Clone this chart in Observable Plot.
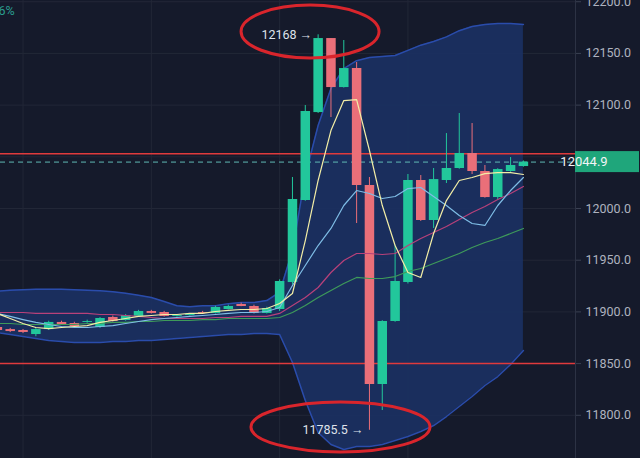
<!DOCTYPE html>
<html><head><meta charset="utf-8">
<script src="https://cdn.jsdelivr.net/npm/d3@7"></script>
<script src="https://cdn.jsdelivr.net/npm/@observablehq/plot@0.6"></script>
<style>
html,body{margin:0;padding:0;background:#151a2b;overflow:hidden}
#chart{position:relative;width:640px;height:458px;overflow:hidden}
</style></head><body><div id="chart"></div>
<script>
// bar index (-1 is the partially visible bar at the left edge)
const bars = [-1,0,1,2,3,4,5,6,7,8,9,10,11,12,13,14,15,16,17,18,19,20,21,22,23,24,25,26,27,28,29,30,31,32,33,34,35,36,37,38,39,40];
const opens  = [11884.9,11882.9,11882.0,11878.1,11882.9,11889.8,11888.8,11889.8,11884.9,11894.6,11891.7,11895.6,11900.4,11899.4,11895.6,11896.5,11899.4,11898.5,11902.3,11907.2,11905.2,11898.5,11902.3,11928.4,12007.7,12092.8,12164.4,12117.0,12135.4,12022.2,11829.8,11890.7,11928.4,12027.1,11988.4,12027.1,12038.7,12053.2,12035.8,12010.6,12035.8,12040.6];
const closes = [11882.0,11881.0,11880.1,11882.9,11889.8,11887.8,11885.9,11890.7,11893.6,11890.7,11896.5,11900.4,11898.5,11895.6,11896.5,11897.5,11898.5,11904.3,11905.2,11905.2,11898.5,11903.3,11929.4,12008.7,12093.8,12164.4,12117.0,12135.4,12022.2,11829.8,11890.7,11929.4,12027.1,11988.4,12028.0,12038.7,12053.2,12035.8,12010.6,12037.7,12041.6,12044.9];
const highs  = [11886,11884,11883,11884,11891,11891,11890,11892,11894.5,11896,11897.5,11901.5,11901.5,11900.5,11897.5,11898.5,11900.5,11905.5,11906.5,11908.5,11906.5,11904.5,11931,12030.0,12099.6,12168,12164.4,12162.5,12141.2,12030.0,11891.5,11964,12032.9,12031.9,12038.7,12072.5,12091.9,12082.2,12041.6,12038.5,12049.3,12046];
const lows   = [11881,11880,11879,11876,11882,11887,11885,11889,11884,11890,11891,11895,11898,11895,11895,11896,11898,11898,11902,11905,11898,11898,11900.4,11926,12007,12092,12088,12116.5,11985.5,11785.5,11804.6,11890,11927,11987.5,11980.7,12024.2,12038,12032.9,12010,12007.7,12035,12040];
// Bollinger bands
const bbUpper = [11920,11921,11921.5,11922,11922,11922,11921.5,11921,11920.5,11919.5,11918,11916,11914,11910,11906,11905,11906,11906,11908,11909,11909,11911,11919,11959.4,12031.9,12080.3,12116,12135.4,12143,12146,12147,12148,12153,12158,12161.5,12166,12172,12176,12178,12179,12179,12178];
const bbLower = [11880.1,11878.1,11876.2,11874.3,11872.3,11871.4,11870.4,11870.4,11870.4,11871.4,11871.4,11872.3,11872.3,11873.3,11874.3,11875.2,11876.2,11877.2,11878.1,11878.1,11879.1,11879.1,11878.1,11851.1,11814.3,11783.4,11771.8,11766.9,11769.8,11769.8,11771.8,11775.6,11779.5,11784.3,11790.1,11798.8,11808.5,11818.2,11828.8,11837.5,11849.1,11862.7];
// moving averages
const maYellow = [11898.5,11893.6,11888.8,11884.9,11883.9,11884.9,11885.9,11886.8,11889.8,11891.7,11893.6,11895.6,11896.5,11897.5,11897.5,11898.5,11898.5,11900.4,11901.4,11902.3,11902.3,11903.3,11908.1,11917.8,11969.0,12027.1,12075.4,12104.4,12105.4,12056.1,12002.9,11964.2,11938.1,11933.3,11975.8,12007.7,12027.1,12030.0,12033.8,12034.8,12034.8,12032.9];
const maBlue = [11898.5,11895.6,11892.6,11889.8,11887.8,11885.9,11884.9,11884.9,11885.9,11886.8,11888.8,11890.7,11892.6,11893.6,11894.6,11895.6,11896.5,11897.5,11898.5,11899.4,11899.4,11900.4,11904.3,11925.5,11944.9,11964.2,11980.7,12002.9,12017.4,12014.5,12009.7,12011.6,12019.3,12020.3,12011.6,12002.9,11993.2,11985.5,11983.6,12002.9,12017.4,12030.0];
const maPink = [11899.4,11899.4,11899.4,11898.5,11898.5,11898.5,11898.5,11898.5,11897.5,11897.5,11896.5,11895.6,11894.6,11893.6,11893.6,11893.6,11893.6,11894.6,11894.6,11895.6,11895.6,11895.6,11898.5,11906.2,11913.9,11923.6,11938.1,11949.7,11956.5,11956.5,11955.5,11956.5,11964.2,11971.0,11976.8,11982.6,11989.4,11996.1,12001.9,12008.7,12014.5,12021.3];
const maGreen = [11888.8,11888.8,11887.8,11887.8,11887.8,11887.8,11887.8,11888.8,11888.8,11889.8,11889.8,11890.7,11890.7,11891.7,11891.7,11891.7,11892.6,11892.6,11893.6,11893.6,11893.6,11893.6,11894.6,11899.4,11906.2,11913.9,11920.7,11927.5,11933.3,11932.3,11932.3,11934.2,11939.1,11942.0,11946.8,11951.6,11956.5,11962.3,11967.1,11971.0,11975.8,11980.7];
// levels and labels
const redLevels = [12053, 11850];
const lastPrice = 12044.9;
const gridTicks = [11800,11850,11900,11950,12000,12050,12100,12150,12200];
const axisTicks = [11800,11850,11900,11950,12000,12100,12150,12200];
const gridBars = [1,11,21,31];
const markers = [{i:24, v:12168, t:"12168 →"}, {i:28, v:11785.5, t:"11785.5 →"}];
const circled = [{i:23.41, v:12170.7, rx:69, ry:26.5}, {i:25.78, v:11788.2, rx:89.5, ry:25}];

const data = bars.map((i,k)=>({i, o:opens[k], c:closes[k], h:highs[k], l:lows[k],
  up:bbUpper[k], lo:bbLower[k], my:maYellow[k], mb:maBlue[k], mp:maPink[k], mg:maGreen[k]}));
const GREEN = "#22c79b", RED = "#ea6f79";
const col = d => d.c >= d.o ? GREEN : RED;

const plot = Plot.plot({
  width:640, height:458, marginLeft:0, marginRight:65, marginTop:0, marginBottom:0,
  style:{background:"#151a2b", color:"#aeb2bf", fontFamily:"Roboto, sans-serif", fontSize:"12.5px"},
  x:{domain:[-0.756, 44.06], axis:null},
  y:{domain:[11758.2, 12201.2], axis:null},
  marks:[
    Plot.gridY(gridTicks, {stroke:"#222737", strokeOpacity:1}),
    Plot.gridX(gridBars, {stroke:"#222737", strokeOpacity:1}),
    Plot.areaY(data, {x:"i", y1:"lo", y2:"up", fill:"#1b3163", fillOpacity:0.9}),
    Plot.line(data, {x:"i", y:"up", stroke:"#2a4cab", strokeWidth:1.5}),
    Plot.line(data, {x:"i", y:"lo", stroke:"#2a4cab", strokeWidth:1.5}),
    Plot.ruleY(redLevels, {stroke:"#e03a3c", strokeWidth:1.5}),
    Plot.ruleY([lastPrice], {stroke:"#5fb9b4", strokeWidth:1, strokeDasharray:"5,4"}),
    Plot.ruleX(data, {x:"i", y1:"l", y2:"h", stroke:col, strokeWidth:1}),
    Plot.ruleX(data, {x:"i", y1:"o", y2:"c", stroke:col, strokeWidth:9.5}),
    Plot.line(data, {x:"i", y:"mg", stroke:"#3e9a5a", strokeWidth:1.2}),
    Plot.line(data, {x:"i", y:"mp", stroke:"#b8417a", strokeWidth:1.2}),
    Plot.line(data, {x:"i", y:"mb", stroke:"#7fbde6", strokeWidth:1.2}),
    Plot.line(data, {x:"i", y:"my", stroke:"#f3eea6", strokeWidth:1.2}),
    Plot.text(markers, {x:"i", y:"v", text:"t", textAnchor:"end", dx:-6, fill:"#dfe2ea", fontSize:12.5}),
    Plot.axisY(axisTicks, {anchor:"right", tickSize:5, tickPadding:5, stroke:"#3a4052",
      tickFormat:d=>d.toFixed(1), fill:"#aeb2bf"}),
    Plot.frame({anchor:"right", stroke:"#2c3244"}),
    Plot.text(["6%"], {frameAnchor:"top-left", dx:-2, dy:6, fill:"#2a9d8f", fontSize:12.5, textAnchor:"start"})
  ]
});

const sx = plot.scale("x"), sy = plot.scale("y");
const svg = d3.select(plot);
// current price tag
const yp = sy.apply(lastPrice);
svg.append("line").attr("x1", 575).attr("x2", 580).attr("y1", yp).attr("y2", yp).attr("stroke", "#ffffff");
svg.append("rect").attr("x", 575).attr("y", yp-10.5).attr("width", 64).attr("height", 21).attr("fill", "#1fa67b");
svg.append("text").attr("x", 584).attr("y", yp).attr("dy", "0.35em").attr("fill", "#f2f5f7")
  .attr("font-size", 13).attr("font-family", "Roboto, sans-serif").text(lastPrice.toFixed(1));
// hand-drawn circles
for (const e of circled) {
  svg.append("ellipse").attr("cx", sx.apply(e.i)).attr("cy", sy.apply(e.v))
    .attr("rx", e.rx).attr("ry", e.ry).attr("fill", "none").attr("stroke", "#d9252c").attr("stroke-width", 3);
}
document.getElementById("chart").appendChild(plot);
</script></body></html>
